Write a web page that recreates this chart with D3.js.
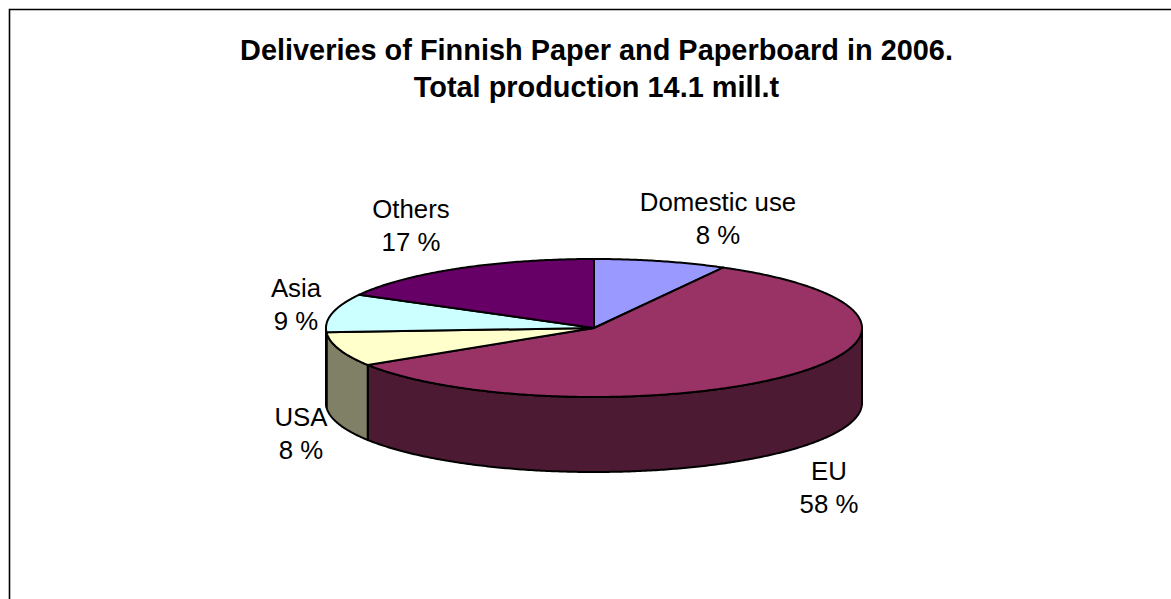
<!DOCTYPE html>
<html>
<head>
<meta charset="utf-8">
<script src="https://cdn.jsdelivr.net/npm/d3@7"></script>
<style>
  html, body { margin: 0; padding: 0; background: #fff; }
  svg { display: block; }
  text { font-family: "Liberation Sans", Arial, sans-serif; fill: #000; }
</style>
</head>
<body>
<svg id="chart" width="1171" height="599"></svg>
<script>
// Delivery shares, clockwise from twelve o'clock
const categories = ["Domestic use", "EU", "USA", "Asia", "Others"];
const shares = [8, 58, 8, 9, 17];
const titleLines = ["Deliveries of Finnish Paper and Paperboard in 2006.", "Total production 14.1 mill.t"];

const topColors = ["#9999ff", "#993366", "#ffffcc", "#ccffff", "#660066"];
const wallColors = ["#4d4d80", "#4d1a33", "#808066", "#668080", "#330033"];

// Label anchors beside each slice: horizontal centre and first baseline
const labelAnchors = [[718, 211], [829, 480], [301, 426], [296, 297], [411, 218]];
const labelLeading = 33;

const width = 1171, height = 599;
const cx = 594, cy = 328, rx = 268, ry = 69, depth = 75;

const svg = d3.select("#chart");

// Chart frame: only the top and left edges fall inside the page
svg.append("path")
  .attr("d", `M${width},9.5H9.5V${height}`)
  .attr("fill", "none")
  .attr("stroke", "#000")
  .attr("stroke-width", 1.6);

svg.append("g").selectAll("text")
  .data(titleLines)
  .join("text")
  .attr("x", 596.5)
  .attr("y", (d, i) => 60 + i * 37)
  .attr("text-anchor", "middle")
  .attr("font-size", 28.9)
  .attr("font-weight", "bold")
  .text(d => d);

const slices = d3.pie().sort(null).value(d => d)(shares);

// Tilted disc: an angle measured clockwise from the top maps onto an ellipse
const px = a => cx + rx * Math.sin(a);
const py = a => cy - ry * Math.cos(a);

function rimPoints(a0, a1, drop) {
  const steps = Math.max(2, Math.ceil((a1 - a0) / 0.01));
  return d3.range(steps + 1).map(i => {
    const a = a0 + (a1 - a0) * i / steps;
    return [px(a), py(a) + drop];
  });
}

const line = d3.line();
const pie = svg.append("g")
  .attr("stroke", "#000")
  .attr("stroke-width", 2)
  .attr("stroke-linejoin", "round");

// Side wall: only the part of each slice on the front half of the disc shows
slices.forEach((s, i) => {
  const a0 = Math.max(s.startAngle, Math.PI / 2);
  const a1 = Math.min(s.endAngle, 3 * Math.PI / 2);
  if (a1 <= a0) return;
  const pts = rimPoints(a0, a1, 0).concat(rimPoints(a0, a1, depth).reverse());
  pie.append("path")
    .attr("d", line(pts) + "Z")
    .attr("fill", wallColors[i]);
});

// Top face of each slice
slices.forEach((s, i) => {
  const pts = [[cx, cy]].concat(rimPoints(s.startAngle, s.endAngle, 0));
  pie.append("path")
    .attr("d", line(pts) + "Z")
    .attr("fill", topColors[i]);
});

// Two-line labels: category name above its share
const labels = svg.append("g")
  .selectAll("text")
  .data(categories)
  .join("text")
  .attr("text-anchor", "middle")
  .attr("font-size", 25.8);

labels.append("tspan")
  .attr("x", (d, i) => labelAnchors[i][0])
  .attr("y", (d, i) => labelAnchors[i][1])
  .text(d => d);

labels.append("tspan")
  .attr("x", (d, i) => labelAnchors[i][0])
  .attr("y", (d, i) => labelAnchors[i][1] + labelLeading)
  .text((d, i) => `${shares[i]} %`);
</script>
</body>
</html>
